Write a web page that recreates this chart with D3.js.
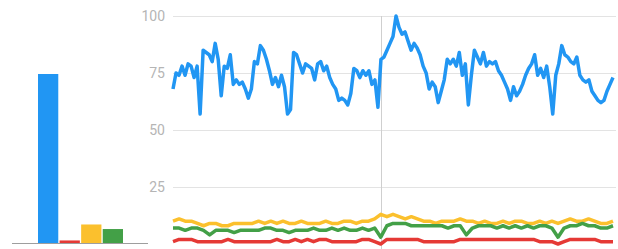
<!DOCTYPE html>
<html>
<head>
<meta charset="utf-8">
<script src="https://cdn.jsdelivr.net/npm/d3@7"></script>
<style>
	body { margin: 0; background: #fff; }
	svg { display: block; font-family: Roboto, sans-serif; }
</style>
</head>
<body>
<div id="chart"></div>
<script>
// search terms (colours only, names not shown in the crop)
const terms = ['blue', 'red', 'yellow', 'green'];
const colors = ['#2196f3', '#e53935', '#fbc02d', '#43a047'];
// averages shown in the left bar chart
const averages = [75, 2, 9, 7];
const yTicks = [25, 50, 75, 100];

// interest over time
const blueValues = [68, 75, 74, 78, 74, 79, 78, 73, 78, 57, 85, 84, 83, 80, 88, 81, 65, 78, 77, 83,
	70, 72, 70, 71, 68, 64, 68, 80, 79, 87, 85, 81, 76, 70, 73, 69, 74, 69, 57, 59,
	84, 83, 79, 75, 79, 78, 77, 72, 79, 80, 76, 78, 73, 70, 68, 63, 64, 63, 61, 66,
	77, 76, 73, 76, 74, 76, 70, 72, 60, 81,
	82, 85, 88, 91, 100, 95, 92, 93, 89, 85, 88, 86, 83, 78, 75, 68, 71, 69, 62, 67,
	72, 81, 79, 81, 78, 84, 74, 79, 61, 74, 85, 82, 79, 84, 78, 80, 79, 80, 76, 74,
	71, 68, 63, 69, 65, 67, 70, 74, 77, 79, 83, 74, 77, 73, 78, 69, 57, 74, 79, 87,
	83, 82, 80, 79, 82, 74, 72, 71, 72, 67, 65, 63, 62, 63, 67, 70, 73];
const yellowValues = [10, 11, 10, 10, 9, 8, 9, 9, 8, 8, 9, 9,
	9, 9, 10, 9, 10, 9, 10, 9, 9, 10,
	9, 9, 9, 10, 9, 9, 10, 10, 9, 10, 10, 11,
	13, 12, 13, 12, 11, 12, 11,
	10, 10, 9, 10, 10, 10, 11, 10, 10, 9,
	10, 9, 9, 10, 9, 10, 10, 9, 9, 10,
	9, 10, 9, 10, 11, 10, 10, 11, 10, 9, 9, 10];
const greenValues = [7, 7, 6, 7, 7, 6, 4, 6, 6, 6, 5, 6,
	6, 6, 6, 7, 7, 6, 6, 5, 6, 6,
	6, 7, 6, 6, 7, 6, 7, 6, 6, 7, 6, 7,
	3, 8, 9, 9, 9, 8, 8,
	8, 8, 8, 8, 7, 8, 8, 4, 7, 8,
	8, 8, 7, 8, 7, 8, 7, 8, 7, 8,
	8, 7, 3, 7, 8, 8, 9, 8, 8, 7, 7, 8];
const redValues = [1, 2, 2, 2, 1, 1, 1, 1, 1, 2, 1, 1,
	1, 1, 1, 1, 1, 2, 1, 1, 2, 1,
	2, 1, 2, 2, 1, 1, 1, 1, 1, 2, 2, 1,
	0, 2, 2, 2, 2, 2, 2,
	1, 1, 1, 1, 1, 1, 2, 2, 2, 2,
	2, 2, 2, 2, 2, 2, 2, 2, 2, 1,
	1, 1, 0, 1, 2, 2, 2, 2, 2, 1, 1, 1];

const w = 618;
const h = 249;

const svg = d3.select('#chart')
	.append('svg')
	.attr('width', w)
	.attr('height', h);

const y = d3.scaleLinear().domain([0, 100]).range([244, 16]);

// left: average bars
const xBar = d3.scaleBand().domain(terms).range([38, 123]).paddingInner(0.06);

svg.selectAll('rect.bar')
	.data(averages)
	.enter()
	.append('rect')
	.attr('class', 'bar')
	.attr('x', (d, i) => xBar(terms[i]))
	.attr('y', d => y(d) + 1)
	.attr('width', xBar.bandwidth())
	.attr('height', d => 243 - y(d) - 1)
	.attr('fill', (d, i) => colors[i]);

svg.append('line')
	.attr('x1', 12).attr('x2', 148)
	.attr('y1', 243.5).attr('y2', 243.5)
	.attr('stroke', '#9e9e9e')
	.attr('stroke-width', 1);

// right: grid + labels
const x0 = 173, x1 = 613;
const grid = svg.append('g');
grid.selectAll('line')
	.data(yTicks)
	.enter()
	.append('line')
	.attr('x1', 173).attr('x2', 616)
	.attr('y1', d => Math.round(y(d)) + 0.5)
	.attr('y2', d => Math.round(y(d)) + 0.5)
	.attr('stroke', '#e3e3e3')
	.attr('stroke-width', 1.2);

grid.selectAll('text')
	.data(yTicks)
	.enter()
	.append('text')
	.attr('x', 165)
	.attr('y', d => y(d) + 5)
	.attr('text-anchor', 'end')
	.attr('font-size', '14px')
	.attr('fill', '#b5b5b5')
	.text(d => d);

// hover marker
svg.append('line')
	.attr('x1', 381.5).attr('x2', 381.5)
	.attr('y1', 16).attr('y2', 249)
	.attr('stroke', '#cfcfcf')
	.attr('stroke-width', 1);

const drawSeries = (values, color, width) => {
	const x = d3.scaleLinear().domain([0, values.length - 1]).range([x0, x1]);
	const line = d3.line()
		.x((d, i) => x(i))
		.y(d => y(d));
	svg.append('path')
		.datum(values)
		.attr('d', line)
		.attr('fill', 'none')
		.attr('stroke', color)
		.attr('stroke-width', width)
		.attr('stroke-linejoin', 'round');
}

drawSeries(yellowValues, colors[2], 3.5);
drawSeries(greenValues, colors[3], 3.5);
drawSeries(redValues, colors[1], 3.5);
drawSeries(blueValues, colors[0], 3.5);
</script>
</body>
</html>
